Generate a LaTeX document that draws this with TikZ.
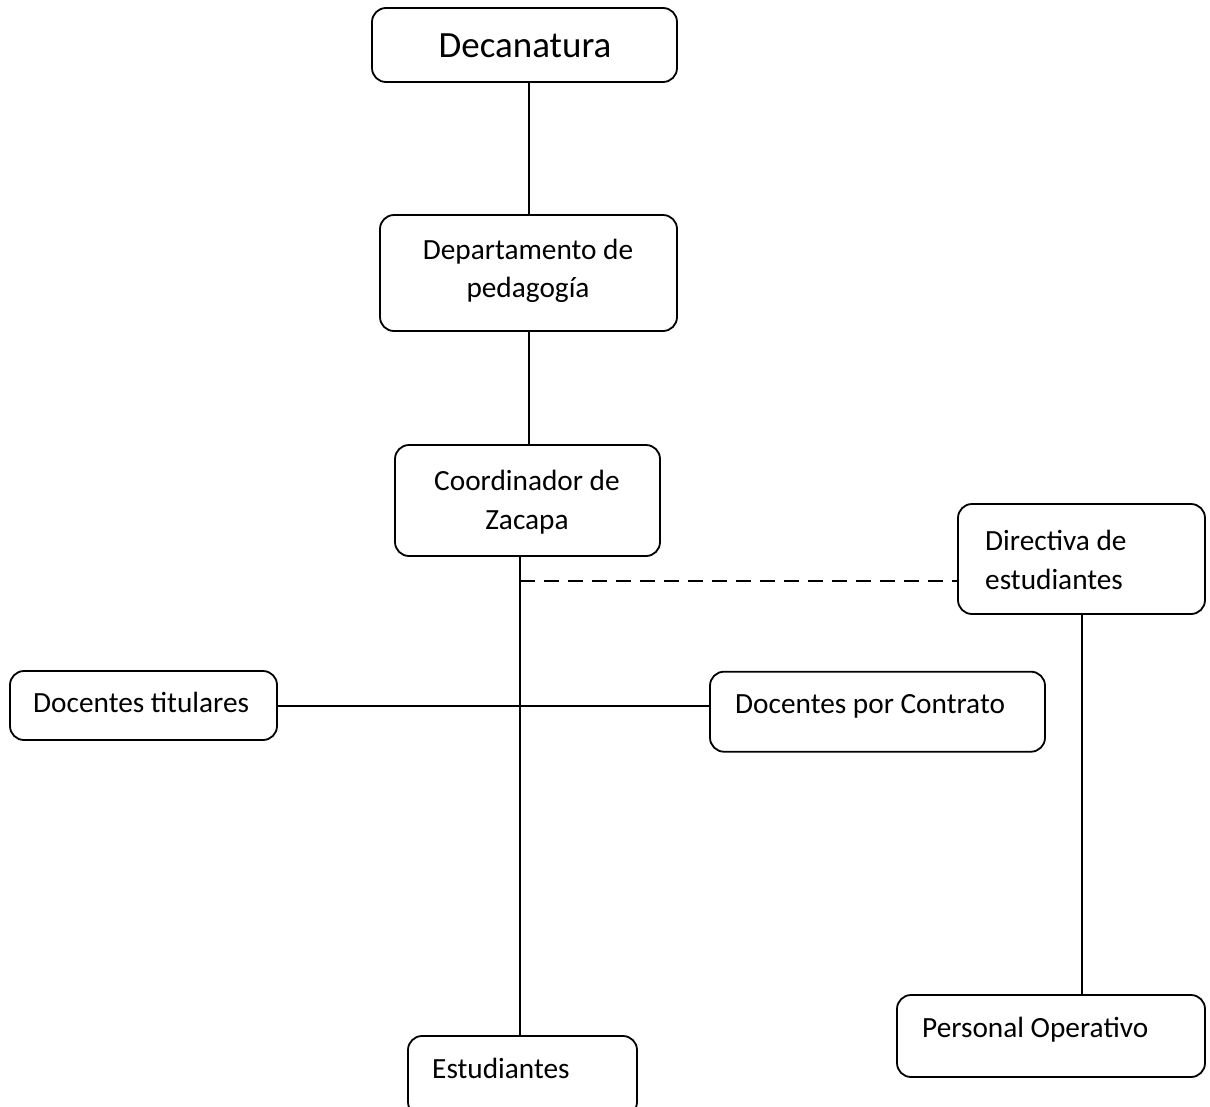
\documentclass[tikz,border=0pt]{standalone}
\usepackage{fontspec}
\setmainfont{Carlito}
\begin{document}
\begin{tikzpicture}[x=1pt,y=-1pt,
  box/.style={draw, line width=1.8pt, rounded corners=14pt, inner sep=0pt, shape=rectangle},
  txt/.style={inner sep=0pt, font=\fontsize{29.3}{38.7}\selectfont},
  conn/.style={line width=2pt},
  dashconn/.style={line width=2pt, dash pattern=on 15pt off 9pt}]
\useasboundingbox (0,0) rectangle (1210,1106);
% boxes
\node[box, minimum width=305pt, minimum height=74pt] (dec) at (524.5,45) {};
\node[box, minimum width=297pt, minimum height=116pt] (dep) at (528.5,273) {};
\node[box, minimum width=265pt, minimum height=111pt] (coo) at (527.5,500.5) {};
\node[box, minimum width=247pt, minimum height=110pt] (dir) at (1081.5,559) {};
\node[box, minimum width=267pt, minimum height=69pt] (dt) at (143.5,705.5) {};
\node[box, minimum width=335pt, minimum height=80pt] (dc) at (877.5,711.7) {};
\node[box, minimum width=308pt, minimum height=82pt] (po) at (1051,1036) {};
\node[box, minimum width=229pt, minimum height=80pt] (est) at (522.5,1076) {};
% texts
\node[txt, anchor=base, font=\fontsize{37}{44}\selectfont] (decT) at (525,57.3) {Decanatura};
\node[txt, anchor=base, align=center] (depT) at (528,297.7) {Departamento de\\pedagogía};
\node[txt, anchor=base, align=center, font=\fontsize{29.3}{39.3}\selectfont] (cooT) at (527,529.5) {Coordinador de\\Zacapa};
\node[txt, anchor=base west, align=left] (dirT) at (985,589) {Directiva de\\estudiantes};
\node[txt, anchor=base west] (dtT) at (33,712.7) {Docentes titulares};
\node[txt, anchor=base west] (dcT) at (735,713.3) {Docentes por Contrato};
\node[txt, anchor=base west] (poT) at (922,1037) {Personal Operativo};
\node[txt, anchor=base west] (estT) at (432,1078) {Estudiantes};
% connectors
\coordinate (trunk) at (520,556);
\coordinate (dashstart) at (520,581);
\draw[conn] (dec.south -| dep.north) -- (dep.north);
\draw[conn] (dep.south) -- (dep.south |- coo.north);
\draw[conn] (trunk) -- (trunk |- est.north);
\draw[dashconn] (dashstart) -- (dashstart -| dir.west);
\draw[conn] (dt.east) -- (dt.east -| dc.west);
\draw[conn] (dir.south) -- (dir.south |- po.north);
\end{tikzpicture}
\end{document}
